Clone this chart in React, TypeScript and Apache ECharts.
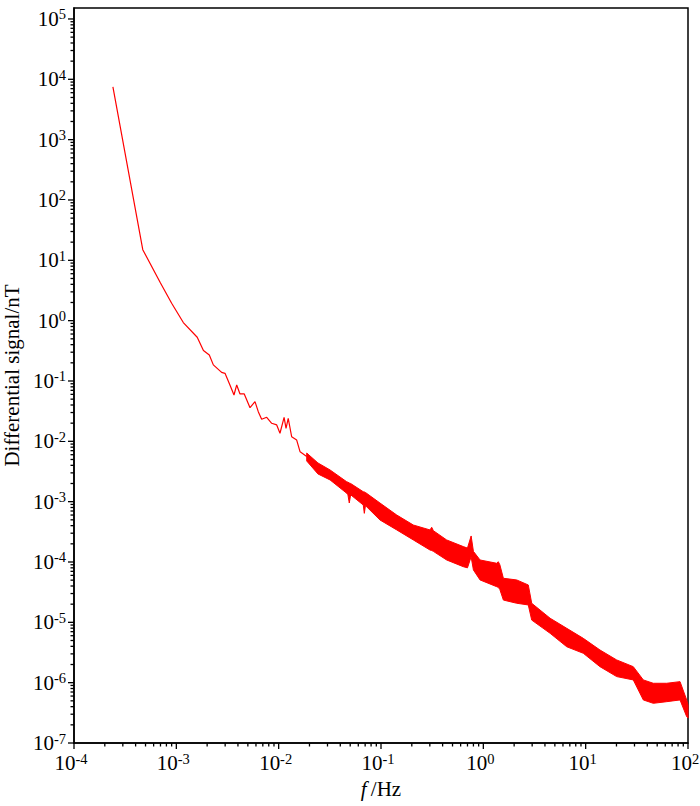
import React, { useEffect, useRef } from 'react';
import * as echarts from 'echarts';

// ---- axis ranges & tick values ----
const X_MIN = 1e-4;
const X_MAX = 100;
const Y_MIN = 1e-7;
const Y_MAX = 1.52e5;
const xMajorTicks = [1e-4, 1e-3, 1e-2, 1e-1, 1, 10, 100];
const yMajorTicks = [1e-7, 1e-6, 1e-5, 1e-4, 1e-3, 1e-2, 1e-1, 1, 10, 100, 1e3, 1e4, 1e5];

// ---- low-frequency single trace (f in Hz, signal in nT) ----
const lineFreq = [
  2.4e-4, 4.7e-4, 7.0e-4, 9.0e-4, 1.17e-3, 1.6e-3, 1.84e-3, 2.1e-3, 2.3e-3, 2.77e-3,
  2.99e-3, 3.34e-3, 3.66e-3, 3.89e-3, 4.19e-3, 4.61e-3, 5.25e-3, 5.87e-3, 6.32e-3, 6.82e-3,
  7.64e-3, 8.55e-3, 9.57e-3, 1.03e-2, 1.13e-2, 1.18e-2, 1.24e-2, 1.34e-2, 1.5e-2, 1.62e-2,
  1.88e-2,
];
const lineValue = [
  7.5e3, 15, 4.2, 1.94, 0.93, 0.53, 0.32, 0.27, 0.185, 0.139,
  0.134, 0.086, 0.0586, 0.086, 0.061, 0.061, 0.0361, 0.0454, 0.031, 0.0232,
  0.025, 0.0199, 0.0187, 0.0136, 0.025, 0.0164, 0.0241, 0.0119, 0.0105, 6.7e-3,
  5.6e-3,
];

// ---- high-frequency noisy band: upper / lower envelope ----
const bandFreq = [
  0.0188, 0.0242, 0.0318, 0.0462, 0.0475, 0.049, 0.0505, 0.0671, 0.0687, 0.0705,
  0.0977, 0.1426, 0.207, 0.301, 0.313, 0.325, 0.438, 0.637, 0.70, 0.76,
  0.80, 0.929, 1.35, 1.40, 1.45, 1.57, 2.12, 2.75, 2.97, 4.49,
  6.53, 9.48, 13.8, 20.1, 29.2, 36.6, 45.8, 61.9, 83.6, 97.1,
  100,
];
const bandUpper = [
  6.4e-3, 4.38e-3, 3.35e-3, 2.14e-3, 2.1e-3, 2.04e-3, 2.0e-3, 1.46e-3, 1.45e-3, 1.42e-3,
  9.5e-4, 6.0e-4, 4.1e-4, 3.4e-4, 3.76e-4, 3.3e-4, 2.32e-4, 1.8e-4, 1.7e-4, 2.7e-4,
  1.5e-4, 1.08e-4, 9.53e-5, 1.01e-4, 9.0e-5, 5.37e-5, 5.04e-5, 4.16e-5, 2.07e-5, 1.17e-5,
  7.96e-6, 5.43e-6, 3.48e-6, 2.38e-6, 1.84e-6, 1.11e-6, 9.77e-7, 9.77e-7, 1.04e-6, 5.17e-7,
  4.27e-7,
];
const bandLower = [
  4.72e-3, 2.88e-3, 2.29e-3, 1.38e-3, 1.3e-3, 9.5e-4, 1.3e-3, 8.8e-4, 6.4e-4, 8.6e-4,
  4.97e-4, 3.4e-4, 2.32e-4, 1.58e-4, 1.55e-4, 1.5e-4, 1.08e-4, 8.36e-5, 8.0e-5, 1.22e-4,
  7.38e-5, 5.04e-5, 3.9e-5, 3.8e-5, 3.5e-5, 2.34e-5, 2.07e-5, 1.94e-5, 1.09e-5, 6.58e-6,
  3.94e-6, 3.07e-6, 1.84e-6, 1.26e-6, 1.11e-6, 5.17e-7, 4.55e-7, 4.84e-7, 5.17e-7, 2.73e-7,
  2.59e-7,
];

function minorTicks(fromExp: number, toExp: number): number[] {
  const out: number[] = [];
  for (let e = fromExp; e < toExp; e++) {
    for (let m = 2; m <= 9; m++) out.push(parseFloat((m * Math.pow(10, e)).toPrecision(6)));
  }
  return out;
}
const xMinorTicks = minorTicks(-4, 2);
const yMinorTicks = minorTicks(-7, 5);

const FONT = "'Liberation Serif', 'Times New Roman', serif";
const RED = '#ff0000';

const powerLabel = (value: number) => {
  const e = Math.round(Math.log10(value));
  return `{b|10}{s|${e}}`;
};
const labelRich = {
  b: { fontSize: 21, fontFamily: FONT, color: '#000' },
  s: { fontSize: 14.5, fontFamily: FONT, color: '#000', verticalAlign: 'bottom', padding: [0, 0, 9, 0] },
};

export default function App() {
  const ref = useRef<HTMLDivElement>(null);
  useEffect(() => {
    if (!ref.current) return;
    const chart = echarts.init(ref.current, undefined, { renderer: 'svg' });
    const option: any = {
      animation: false,
      backgroundColor: '#fff',
      grid: {
        left: 74, right: 12, top: 8, bottom: 63,
        show: true, borderColor: '#000', borderWidth: 1.5, backgroundColor: 'transparent',
        containLabel: false,
        outerBoundsMode: 'none',
      },
      xAxis: {
        type: 'log', min: X_MIN, max: X_MAX, position: 'bottom',
        axisLine: { show: true, lineStyle: { color: '#000', width: 1.5 } },
        axisTick: { show: false },
        axisLabel: {
          customValues: xMajorTicks, formatter: powerLabel, rich: labelRich, margin: 8,
          padding: [0, 6, 0, 0],
        },
        splitLine: { show: false },
        name: '{i|f}{n|\u2009/Hz}',
        nameLocation: 'middle',
        nameGap: 28,
        nameTextStyle: {
          rich: {
            i: { fontSize: 21, fontFamily: FONT, fontStyle: 'italic', color: '#000' },
            n: { fontSize: 21, fontFamily: FONT, color: '#000' },
          },
        },
      },
      yAxis: {
        type: 'log', min: Y_MIN, max: Y_MAX, position: 'left',
        axisLine: { show: true, lineStyle: { color: '#000', width: 1.5 } },
        axisTick: { show: false },
        axisLabel: { customValues: yMajorTicks, formatter: powerLabel, rich: labelRich, margin: 8 },
        splitLine: { show: false },
        name: 'Differential signal/nT',
        nameLocation: 'middle',
        nameGap: 52,
        nameTextStyle: { fontSize: 21, fontFamily: FONT, color: '#000' },
      },
      series: [
        {
          type: 'custom',
          xAxisIndex: 0,
          yAxisIndex: 0,
          silent: true,
          data: bandFreq.map((f, i) => [f, bandUpper[i], bandLower[i]]),
          renderItem: (params: any, api: any) => {
            if (params.dataIndex !== 0) return null;
            const pts: number[][] = [];
            for (let i = 0; i < bandFreq.length; i++) pts.push(api.coord([bandFreq[i], bandUpper[i]]));
            for (let i = bandFreq.length - 1; i >= 0; i--) pts.push(api.coord([bandFreq[i], bandLower[i]]));
            return {
              type: 'polygon',
              shape: { points: pts },
              style: { fill: RED, stroke: RED, lineWidth: 1 },
            };
          },
        },
        {
          type: 'line',
          xAxisIndex: 0,
          yAxisIndex: 0,
          showSymbol: false,
          symbol: 'none',
          data: lineFreq.map((f, i) => [f, lineValue[i]]),
          lineStyle: { color: RED, width: 1.2 },
        },
      ],
    };
    chart.setOption(option);

    // tick marks (thin filled rects), placed with left/top from the grid's own scales
    const ticks: any[] = [];
    const TW = 1.3;
    const corner = chart.convertToPixel('grid', [X_MIN, Y_MIN]) as any;
    const x0 = corner[0];
    const y0 = corner[1];
    const addX = (vals: number[], len: number) =>
      vals.forEach((v) => {
        const p = chart.convertToPixel('grid', [v, Y_MIN]) as any;
        ticks.push({
          type: 'rect', silent: true, z: 20,
          left: p[0] - TW / 2, top: y0,
          shape: { x: 0, y: 0, width: TW, height: len },
          style: { fill: '#000' },
        });
      });
    const addY = (vals: number[], len: number) =>
      vals.forEach((v) => {
        const p = chart.convertToPixel('grid', [X_MIN, v]) as any;
        ticks.push({
          type: 'rect', silent: true, z: 20,
          left: x0 - len, top: p[1] - TW / 2,
          shape: { x: 0, y: 0, width: len, height: TW },
          style: { fill: '#000' },
        });
      });
    addX(xMajorTicks, 6);
    addX(xMinorTicks, 3.5);
    addY(yMajorTicks, 6);
    addY(yMinorTicks, 3.5);
    chart.setOption({ graphic: { elements: ticks } });

    return () => chart.dispose();
  }, []);
  return (
    <div
      ref={ref}
      style={{ position: 'fixed', left: 0, top: 0, width: 700, height: 806, background: '#fff' }}
    />
  );
}
